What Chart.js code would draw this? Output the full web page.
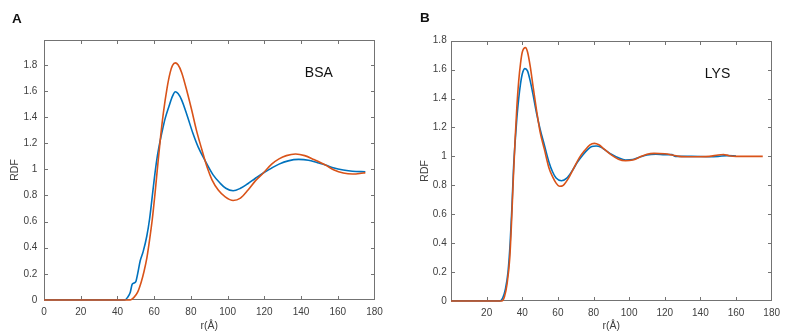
<!DOCTYPE html>
<html>
<head>
<meta charset="utf-8">
<script src="https://cdn.jsdelivr.net/npm/chart.js@4.4.1/dist/chart.umd.min.js"></script>
<style>
  html, body { margin: 0; padding: 0; background: #ffffff; }
  #wrap { position: relative; width: 786px; height: 332px; overflow: hidden; background: #fff; }
  canvas { position: absolute; top: 0; }
  #cA { left: 0; }
  #cB { left: 393px; }
  .panel { position: absolute; font-family: "Liberation Sans", Arial, sans-serif; font-weight: bold; font-size: 13.5px; color: #111; line-height: 1; }
</style>
</head>
<body>
<div id="wrap">
  <canvas id="cA" width="393" height="332"></canvas>
  <canvas id="cB" width="393" height="332"></canvas>
  <div class="panel" style="left:12px; top:12px;">A</div>
  <div class="panel" style="left:420px; top:11px;">B</div>
</div>
<script>
// ---------- data ----------
const xTicks = [0, 20, 40, 60, 80, 100, 120, 140, 160, 180];
const yTicks = [0, 0.2, 0.4, 0.6, 0.8, 1, 1.2, 1.4, 1.6, 1.8];

// Panel A (BSA)
const bsaBlueR = [0, 44, 45.5, 47, 48, 49, 50, 51, 52.4, 54, 56, 57.5, 58.7, 60, 61.5, 63, 64.5, 66, 68, 70, 71.5, 73, 75, 78, 81, 84, 88, 92, 96, 99, 103, 107, 111, 115, 119.6, 124, 128, 133, 138.7, 144, 149, 153.3, 158, 163, 168, 175];
const bsaBlueV = [0, 0, 0.02, 0.06, 0.12, 0.13, 0.14, 0.2, 0.3, 0.37, 0.49, 0.62, 0.76, 0.92, 1.08, 1.2, 1.3, 1.39, 1.48, 1.56, 1.594, 1.58, 1.53, 1.41, 1.28, 1.17, 1.06, 0.96, 0.893, 0.855, 0.836, 0.855, 0.89, 0.93, 0.974, 1.01, 1.04, 1.065, 1.076, 1.07, 1.05, 1.033, 1.01, 0.995, 0.985, 0.982];
const bsaOrangeR = [0, 47, 49, 51, 53, 54.5, 56, 57.5, 59, 60.5, 62, 63.5, 65, 67, 68.7, 70, 71.5, 73, 75, 78, 80.5, 83, 86, 89, 91.5, 95, 98.7, 103, 107, 111, 115, 119.6, 124, 128, 132, 137, 142, 147, 153.3, 158, 163, 168, 172, 175];
const bsaOrangeV = [0, 0, 0.02, 0.06, 0.14, 0.22, 0.32, 0.46, 0.62, 0.82, 1.04, 1.25, 1.43, 1.62, 1.74, 1.795, 1.815, 1.8, 1.74, 1.59, 1.45, 1.3, 1.15, 1.01, 0.92, 0.84, 0.79, 0.762, 0.78, 0.84, 0.91, 0.974, 1.04, 1.08, 1.105, 1.117, 1.105, 1.075, 1.033, 0.995, 0.972, 0.964, 0.968, 0.975];

// Panel B (LYS)
const lysBlueR = [0, 27.5, 29, 30.5, 32, 33.2, 34.2, 35.1, 36, 37, 38, 39, 40, 41.5, 43, 44.5, 46, 48, 50, 52.4, 55, 57, 59, 62, 65, 68, 71, 74, 77, 79, 81.5, 84, 87, 90, 94, 98, 102, 106, 110, 115, 120, 124, 126, 135, 145, 150, 155, 160];
const lysBlueV = [0, 0, 0.02, 0.08, 0.2, 0.4, 0.65, 0.918, 1.1, 1.27, 1.4, 1.5, 1.57, 1.607, 1.59, 1.52, 1.43, 1.3, 1.19, 1.079, 0.96, 0.894, 0.85, 0.832, 0.85, 0.9, 0.96, 1.01, 1.05, 1.068, 1.072, 1.065, 1.04, 1.015, 0.99, 0.975, 0.978, 0.995, 1.01, 1.015, 1.012, 1.012, 1.0, 1.0, 0.998, 1.0, 1.005, 1.003];
const lysOrangeR = [0, 28.5, 30, 31.5, 33, 34, 35, 36, 37, 38, 39, 40, 41.8, 43, 44.5, 46, 48, 50, 52.4, 55, 57, 59, 61, 63, 66, 69, 72, 75, 78, 80.5, 83, 86, 90, 94, 98, 102, 106, 110, 114, 120, 124, 128, 135, 145, 150, 153, 156, 160, 175];
const lysOrangeV = [0, 0, 0.03, 0.12, 0.3, 0.55, 0.85, 1.12, 1.35, 1.52, 1.64, 1.72, 1.752, 1.72, 1.62, 1.49, 1.32, 1.17, 1.05, 0.92, 0.86, 0.815, 0.793, 0.8, 0.85, 0.92, 0.99, 1.04, 1.08, 1.09, 1.08, 1.05, 1.01, 0.98, 0.97, 0.975, 0.995, 1.015, 1.021, 1.018, 1.01, 1.0, 0.997, 1.0, 1.01, 1.013, 1.005, 1.0, 1.0];

// ---------- styling ----------
const FONT = '"Liberation Sans", Arial, Helvetica, sans-serif';
const BLUE = '#0072BD';
const ORANGE = '#D95319';
const TEXT = '#404040';
const FRAME = '#737373';

function pts(rs, vs) { return rs.map((r, i) => ({ x: r, y: vs[i] })); }

const framePlugin = {
  id: 'frame',
  beforeDatasetsDraw(chart) {
    const { ctx, chartArea, scales } = chart;
    const L = Math.round(chartArea.left) + 0.5, R = Math.round(chartArea.right) - 0.5;
    const T = Math.round(chartArea.top) + 0.5, B = Math.round(chartArea.bottom) - 0.5;
    ctx.save();
    ctx.strokeStyle = FRAME;
    ctx.lineWidth = 1;
    ctx.strokeRect(L, T, R - L, B - T);
    const tl = 3.5;
    ctx.beginPath();
    scales.x.ticks.forEach(t => {
      if (t.value <= scales.x.min || t.value >= scales.x.max) return;
      const px = Math.round(scales.x.getPixelForValue(t.value)) + 0.5;
      ctx.moveTo(px, B); ctx.lineTo(px, B - tl);
      ctx.moveTo(px, T); ctx.lineTo(px, T + tl);
    });
    scales.y.ticks.forEach(t => {
      if (t.value <= scales.y.min || t.value >= scales.y.max) return;
      const py = Math.round(scales.y.getPixelForValue(t.value)) + 0.5;
      ctx.moveTo(L, py); ctx.lineTo(L + tl, py);
      ctx.moveTo(R, py); ctx.lineTo(R - tl, py);
    });
    ctx.stroke();
    ctx.restore();
  },
  afterDatasetsDraw(chart, args, opts) {
    const { ctx, scales } = chart;
    ctx.save();
    ctx.fillStyle = '#111';
    ctx.font = '14px ' + FONT;
    ctx.textAlign = 'center';
    ctx.textBaseline = 'middle';
    ctx.fillText(opts.text, scales.x.getPixelForValue(opts.tx), scales.y.getPixelForValue(opts.ty));
    ctx.restore();
  }
};

function makeChart(id, blueR, blueV, orangeR, orangeV, cfg) {
  return new Chart(document.getElementById(id), {
    type: 'line',
    data: {
      datasets: [
        { data: pts(orangeR, orangeV), borderColor: ORANGE, borderWidth: 1.6, pointRadius: 0, cubicInterpolationMode: 'monotone', fill: false, clip: 3 },
        { data: pts(blueR, blueV), borderColor: BLUE, borderWidth: 1.6, pointRadius: 0, cubicInterpolationMode: 'monotone', fill: false, clip: 3 }
      ]
    },
    options: {
      responsive: false,
      animation: false,
      devicePixelRatio: 1,
      layout: { padding: cfg.padding },
      plugins: {
        legend: { display: false },
        tooltip: { enabled: false },
        frame: { text: cfg.label, tx: cfg.labelX, ty: cfg.labelY }
      },
      scales: {
        x: {
          type: 'linear', min: 0, max: 180,
          afterBuildTicks: s => { s.ticks = xTicks.map(v => ({ value: v })); },
          afterFit: s => { s.height = cfg.xHeight; },
          grid: { display: false, drawTicks: false },
          border: { display: false },
          ticks: {
            padding: 6, color: TEXT, font: { family: FONT, size: 10 }, maxRotation: 0, autoSkip: false,
            callback: v => (cfg.hideX0 && v === 0) ? '' : String(v)
          },
          title: { display: true, text: 'r(Å)', color: TEXT, font: { family: FONT, size: 10.5 }, padding: { top: 0, bottom: 0 } }
        },
        y: {
          type: 'linear', min: 0, max: cfg.yMax,
          afterBuildTicks: s => { s.ticks = yTicks.map(v => ({ value: v })); },
          afterFit: s => { s.width = cfg.yWidth; },
          grid: { display: false, drawTicks: false },
          border: { display: false },
          ticks: {
            padding: cfg.yPad, color: TEXT, font: { family: FONT, size: 10 }, autoSkip: false,
            callback: v => String(Math.round(v * 10) / 10)
          },
          title: { display: true, text: 'RDF', color: TEXT, font: { family: FONT, size: 10.5 }, padding: { top: cfg.yTitlePad, bottom: 0 } }
        }
      }
    },
    plugins: [framePlugin]
  });
}

makeChart('cA', bsaBlueR, bsaBlueV, bsaOrangeR, bsaOrangeV, {
  padding: { top: 40, right: 18.5, left: 0, bottom: 0 },
  yWidth: 44, xHeight: 32, yMax: 1.99, yPad: 6.7, yTitlePad: 8.5,
  label: 'BSA', labelX: 149.7, labelY: 1.737, hideX0: false
});
makeChart('cB', lysBlueR, lysBlueV, lysOrangeR, lysOrangeV, {
  padding: { top: 40.7, right: 4.3, left: 0, bottom: 0 },
  yWidth: 58, xHeight: 31, yMax: 1.8, yPad: 4.3, yTitlePad: 25.5,
  label: 'LYS', labelX: 149.6, labelY: 1.57, hideX0: true
});
</script>
</body>
</html>
